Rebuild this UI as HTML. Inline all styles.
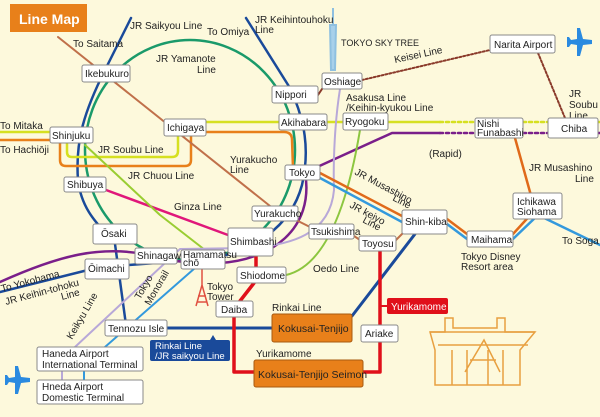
<!DOCTYPE html>
<html><head><meta charset="utf-8"><style>
html,body{margin:0;padding:0;background:#fdf9dc;}
svg{display:block;font-family:"Liberation Sans",Arial,sans-serif;}
.st rect{fill:#fff;stroke:#8a8a8a;stroke-width:1;}
.st text,.lb{font-size:10px;fill:#222;}
.ln{fill:none;stroke-linecap:round;stroke-linejoin:round;}
</style></head><body>
<svg width="600" height="417" viewBox="0 0 600 417" xmlns="http://www.w3.org/2000/svg">
<rect width="600" height="417" fill="#fdf9dc"/>
<rect x="10" y="4" width="77" height="28" fill="#e8801a"/>
<text x="19" y="24" font-size="14" font-weight="bold" fill="#fff">Line Map</text>

<path d="M333 8 L333 25 M330 25 L336 25 L335 70 L331 70 Z" stroke="#8fc0e0" fill="#a8d0ea" stroke-width="2"/>
<path d="M202 268 L202 285 M196 306 L202 285 L208 306 M198 296 L206 296 M197 302 L207 302" stroke="#e05040" fill="none" stroke-width="1.5"/>

<ellipse cx="190" cy="150" rx="105" ry="110" class="ln" stroke="#1a9a6a" stroke-width="2.5"/>
<path class="ln" stroke="#1a4a9a" stroke-width="2.5" d="M131 18 L105 70 C85 110 75 140 78 180 C82 215 105 230 115 244 L126 325"/>
<path class="ln" stroke="#1a4a9a" stroke-width="2.5" d="M246 18 L290 88 C305 120 310 150 302 185 C290 230 250 250 215 258 L170 262 L100 267 L0 292"/>
<path class="ln" stroke="#e8801a" stroke-width="2.5" d="M0 140 L60 140 L60 160 Q60 166 66 166 L185 166 Q191 166 191 160 L191 132 L284 132 Q292 132 292 140 L293 168"/>
<path class="ln" stroke="#d6e020" stroke-width="2.5" d="M0 132 L67 132 L67 152 Q67 157 72 157 L172 157 Q178 157 178 151 L178 122 L440 122"/>
<path class="ln" stroke="#d6e020" stroke-width="2.5" stroke-dasharray="3 3" d="M440 122 L475 122 M523 122 L548 122"/>
<line x1="598" y1="122" x2="600" y2="122" stroke="#d6e020" stroke-width="2.5"/>
<path class="ln" stroke="#7a1f8a" stroke-width="2.5" d="M600 133 L598 133 M440 133 L392 133 L315 168 L305 172 C315 230 270 260 220 263 C190 265 170 260 150 255 C100 245 60 255 0 282"/>
<path class="ln" stroke="#7a1f8a" stroke-width="2.5" stroke-dasharray="3 3" d="M440 133 L475 133 M523 133 L548 133"/>
<path class="ln" stroke="#c0704a" stroke-width="2" d="M58 37 L270 206 M298 221 L312 228 M354 236 L360 240 M396 240 L408 228"/>
<path class="ln" stroke="#e0177a" stroke-width="2.5" d="M106 190 L228 235"/>
<path class="ln" stroke="#9acd32" stroke-width="2" d="M85 145 L160 215 L205 250"/>
<path class="ln" stroke="#8cc63f" stroke-width="2" d="M360 130 C350 190 330 265 286 275"/>
<path class="ln" stroke="#b8a8d8" stroke-width="2" d="M340 89 C335 120 333 160 334 190 C330 235 290 245 250 248 L180 249 L75 347"/>
<path class="ln" stroke="#3399dd" stroke-width="2" d="M195 268 L105 347"/>
<path class="ln" stroke="#3399dd" stroke-width="2" d="M84 371 L84 380"/>
<path class="ln" stroke="#b8a8d8" stroke-width="2" d="M62 371 L62 380"/>
<path class="ln" stroke="#3399dd" stroke-width="2.5" d="M320 178 L402 222 L447 224 L467 239 L513 239 L538 215 L600 245"/>
<path class="ln" stroke="#e06a1a" stroke-width="2.5" d="M320 173 L402 216 L447 219 L467 234 L513 234 L535 210 L515 138"/>
<path class="ln" stroke="#1a4a9a" stroke-width="3" d="M167 328 L272 328 M352 316 L415 234"/>
<path class="ln" stroke="#e0101a" stroke-width="3.5" d="M256 256 L256 267 M254 283 L240 301 M234 317 L234 372 L254 372 M363 372 L380 372 L380 251"/>
<line x1="380" y1="306" x2="387" y2="306" stroke="#e0101a" stroke-width="2"/>
<path class="ln" stroke="#8a3a2a" stroke-width="2" stroke-dasharray="2 2" d="M362 80 L490 50 M538 53 L565 118"/>
<path class="ln" stroke="#8a3a2a" stroke-width="2" d="M318 95 L322 89"/>

<g fill="#2a8ae0">
<path d="M578 30 L582 30 L583 39 L594 42 L594 45 L583 45 L582 51 L585 53 L585 55 L575 55 L575 53 L578 51 L577 45 L566 45 L566 42 L577 39 Z" transform="rotate(90 580 42)"/>
<path d="M16 368 L20 368 L21 377 L32 380 L32 383 L21 383 L20 389 L23 391 L23 393 L13 393 L13 391 L16 389 L15 383 L4 383 L4 380 L15 377 Z" transform="rotate(90 18 380)"/>
</g>

<g stroke="#e8a040" fill="none" stroke-width="1.5">
<path d="M453 318 L453 328 L497 328 L497 318 L505 318 L505 332 L535 332 L520 350 L520 385 L435 385 L435 350 L430 332 L445 332 L445 318 Z"/>
<path d="M430 332 L535 332 M438 345 L528 345 M452 350 L452 385 M467 350 L467 385 M488 350 L488 385 M503 350 L503 385 M465 372 L484 340 L500 372 M470 360 L496 360"/>
</g>

<g class="lb">
<text x="130" y="29">JR Saikyou Line</text>
<text x="73" y="47">To Saitama</text>
<text x="207" y="35">To Omiya</text>
<text x="255" y="23">JR Keihintouhoku</text>
<text x="255" y="33">Line</text>
<text x="341" y="46" font-size="9">TOKYO SKY TREE</text>
<text x="156" y="62">JR Yamanote</text>
<text x="197" y="73">Line</text>
<text x="395" y="63" transform="rotate(-12 395 63)">Keisei Line</text>
<text x="346" y="101">Asakusa Line</text>
<text x="346" y="111">/Keihin-kyukou Line</text>
<text x="569" y="97">JR</text>
<text x="569" y="108">Soubu</text>
<text x="569" y="119">Line</text>
<text x="0" y="129">To Mitaka</text>
<text x="0" y="153">To Hachiōji</text>
<text x="98" y="153">JR Soubu Line</text>
<text x="128" y="179">JR Chuou Line</text>
<text x="230" y="163">Yurakucho</text>
<text x="230" y="173">Line</text>
<text x="429" y="157">(Rapid)</text>
<text x="529" y="171">JR Musashino</text>
<text x="575" y="182">Line</text>
<text x="174" y="210">Ginza Line</text>
<text x="354" y="174" transform="rotate(28 354 174)">JR Musashino</text>
<text x="392" y="200" transform="rotate(28 392 200)">Line</text>
<text x="349" y="207" transform="rotate(28 349 207)">JR keiyo</text>
<text x="362" y="222" transform="rotate(28 362 222)">Line</text>
<text x="313" y="272">Oedo Line</text>
<text x="461" y="260">Tokyo Disney</text>
<text x="461" y="270">Resort area</text>
<text x="562" y="244">To Soga</text>
<text x="2" y="292" transform="rotate(-15 2 292)">To Yokohama</text>
<text x="6" y="305" transform="rotate(-15 6 305)">JR Keihin-tohoku</text>
<text x="62" y="300" transform="rotate(-15 62 300)">Line</text>
<text x="72" y="340" transform="rotate(-60 72 340)">Keikyu Line</text>
<text x="140" y="300" transform="rotate(-60 140 300)">Tokyo</text>
<text x="150" y="306" transform="rotate(-60 150 306)">Monorail</text>
<text x="207" y="290">Tokyo</text>
<text x="207" y="300">Tower</text>
<text x="272" y="311">Rinkai Line</text>
<text x="256" y="357">Yurikamome</text>
</g>

<rect x="150" y="340" width="80" height="21" rx="2" fill="#1a4a9a"/>
<path d="M210 340 L213 335 L216 340 Z" fill="#1a4a9a"/>
<text x="155" y="349" font-size="9.5" fill="#fff">Rinkai Line</text>
<text x="155" y="359" font-size="9.5" fill="#fff">/JR saikyou Line</text>
<rect x="387" y="298" width="61" height="16" rx="2" fill="#e0101a"/>
<text x="391" y="310" font-size="10" fill="#fff">Yurikamome</text>

<rect x="272" y="314" width="80" height="28" rx="2" fill="#e8801a" stroke="#a85a10"/>
<text x="278" y="332" font-size="10.5" fill="#222">Kokusai-Tenjijo</text>
<rect x="254" y="360" width="109" height="27" rx="2" fill="#e8801a" stroke="#a85a10"/>
<text x="258" y="378" font-size="10.5" fill="#222">Kokusai-Tenjijo Seimon</text>

<g class="st">
<rect x="82" y="65" width="48" height="17" rx="2"/><text x="85" y="77">Ikebukuro</text>
<rect x="50" y="127" width="43" height="16" rx="2"/><text x="52" y="139">Shinjuku</text>
<rect x="164" y="119" width="42" height="17" rx="2"/><text x="167" y="131">Ichigaya</text>
<rect x="64" y="177" width="42" height="15" rx="2"/><text x="67" y="188">Shibuya</text>
<rect x="272" y="86" width="46" height="17" rx="2"/><text x="275" y="98">Nippori</text>
<rect x="279" y="114" width="48" height="16" rx="2"/><text x="281" y="126">Akihabara</text>
<rect x="322" y="73" width="40" height="16" rx="2"/><text x="324" y="85">Oshiage</text>
<rect x="343" y="113" width="45" height="17" rx="2"/><text x="345" y="125">Ryogoku</text>
<rect x="490" y="35" width="65" height="18" rx="2"/><text x="494" y="48">Narita Airport</text>
<rect x="475" y="118" width="48" height="20" rx="2"/><text x="477" y="127" font-size="9.5">Nishi</text><text x="477" y="136" font-size="9.5">Funabashi</text>
<rect x="548" y="118" width="50" height="20" rx="2"/><text x="561" y="132">Chiba</text>
<rect x="285" y="165" width="35" height="15" rx="2"/><text x="289" y="176">Tokyo</text>
<rect x="252" y="206" width="46" height="15" rx="2"/><text x="254" y="217">Yurakucho</text>
<rect x="228" y="228" width="45" height="28" rx="2"/><text x="230" y="245">Shimbashi</text>
<rect x="309" y="224" width="45" height="15" rx="2"/><text x="311" y="235" font-size="9">Tsukishima</text>
<rect x="359" y="236" width="37" height="15" rx="2"/><text x="362" y="247">Toyosu</text>
<rect x="402" y="210" width="45" height="24" rx="2"/><text x="405" y="225">Shin-kiba</text>
<rect x="467" y="231" width="46" height="16" rx="2"/><text x="471" y="243">Maihama</text>
<rect x="513" y="193" width="49" height="26" rx="2"/><text x="517" y="205">Ichikawa</text><text x="517" y="215">Siohama</text>
<rect x="237" y="267" width="49" height="16" rx="2"/><text x="240" y="279">Shiodome</text>
<rect x="216" y="301" width="37" height="16" rx="2"/><text x="221" y="313">Daiba</text>
<rect x="361" y="325" width="37" height="17" rx="2"/><text x="365" y="337">Ariake</text>
<rect x="93" y="224" width="44" height="20" rx="2"/><text x="101" y="237">Ōsaki</text>
<rect x="85" y="259" width="44" height="20" rx="2"/><text x="88" y="272">Ōimachi</text>
<rect x="135" y="248" width="42" height="16" rx="2"/><text x="137" y="259" font-size="8">Shinagawa</text>
<rect x="181" y="250" width="44" height="19" rx="2"/><text x="183" y="258" font-size="8">Hamamatsu</text><text x="183" y="266" font-size="8">chō</text>
<rect x="105" y="320" width="62" height="16" rx="2"/><text x="108" y="332">Tennozu Isle</text>
<rect x="37" y="347" width="106" height="24" rx="2"/><text x="42" y="357">Haneda Airport</text><text x="42" y="368">International Terminal</text>
<rect x="37" y="380" width="106" height="24" rx="2"/><text x="42" y="390">Hneda Airport</text><text x="42" y="401">Domestic Terminal</text>
</g>
</svg>
</body></html>
